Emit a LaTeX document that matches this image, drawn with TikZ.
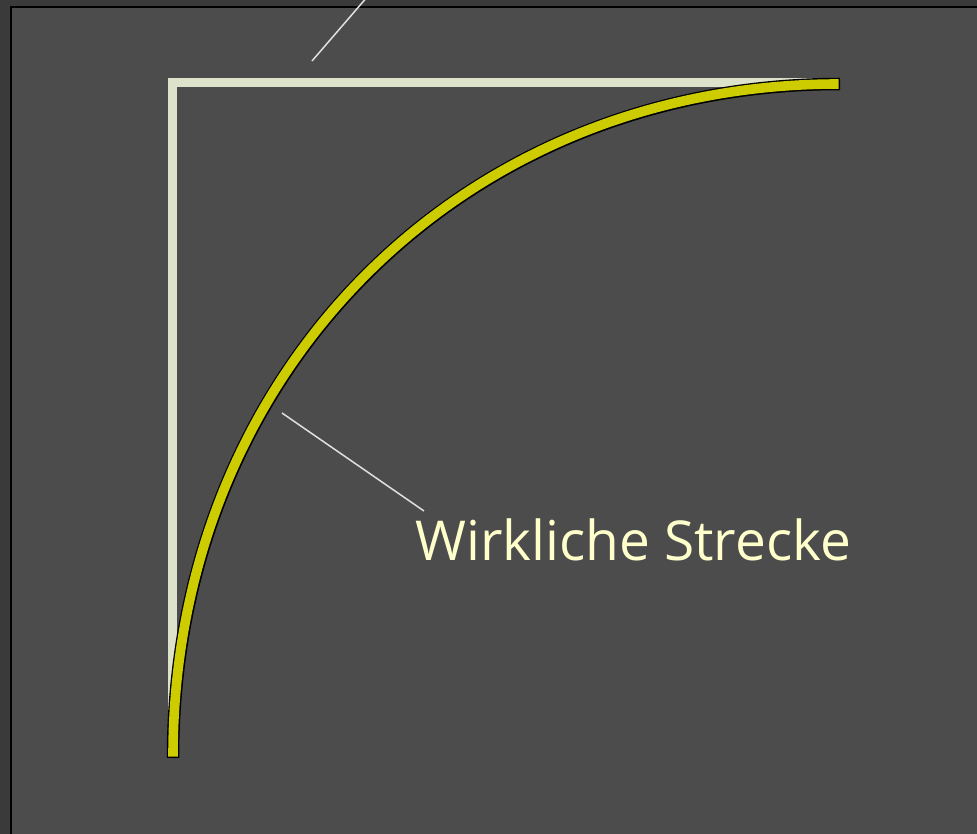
\documentclass[tikz,border=0pt]{standalone}
\usepackage{fontspec}
\setmainfont{Open Sans}
\definecolor{outerbg}{HTML}{3A3A3A}
\definecolor{innerbg}{HTML}{4C4C4C}
\definecolor{creamline}{HTML}{DDE2CB}
\definecolor{curveyellow}{HTML}{CCCC00}
\definecolor{labeltext}{HTML}{FFFFCC}
\definecolor{leader}{HTML}{E0E0E0}
\tikzset{
  leaderline/.style={draw=leader, line width=1.5pt},
  straightline/.style={draw=creamline, line width=9pt, line join=miter, line cap=butt},
  curveoutline/.style={draw=black, line width=12.5pt, line cap=butt},
  curvefill/.style={draw=curveyellow, line width=9.6pt, line cap=butt, shorten <=1.4pt, shorten >=1.4pt},
  labelstyle/.style={text=labeltext, font=\fontsize{55}{62}\selectfont, inner sep=0pt, anchor=base west}
}
\begin{document}
\begin{tikzpicture}[x=1pt, y=-1pt]
  \useasboundingbox (0,0) rectangle (977,834);
  \clip (0,0) rectangle (977,834);
  \fill[outerbg] (0,0) rectangle (977,834);
  \fill[innerbg] (11,7) rectangle (980,840);
  \draw[black, line width=2pt] (11,840) -- (11,7) -- (980,7);
  % coordinates
  \coordinate (start) at (173,758);
  \coordinate (finish) at (840,84);
  \coordinate (corner) at (172.5,82.5);
  % straight (cream) route
  \draw[straightline] (172.5,740) -- (corner) -- (820,82.5);
  % real (curved) route
  \draw[curveoutline] (start) .. controls (173,374) and (460,84) .. (finish);
  \draw[curvefill] (start) .. controls (173,374) and (460,84) .. (finish);
  % labels
  \node[labelstyle] (label) at (415,560) {Wirkliche Strecke};
  \coordinate (l1a) at (282,413);
  \coordinate (l1b) at (424,511);
  \draw[leaderline] (l1a) -- (l1b);
  \coordinate (l2a) at (312,61);
  \coordinate (l2b) at (368,-4);
  \draw[leaderline] (l2a) -- (l2b);
\end{tikzpicture}
\end{document}
